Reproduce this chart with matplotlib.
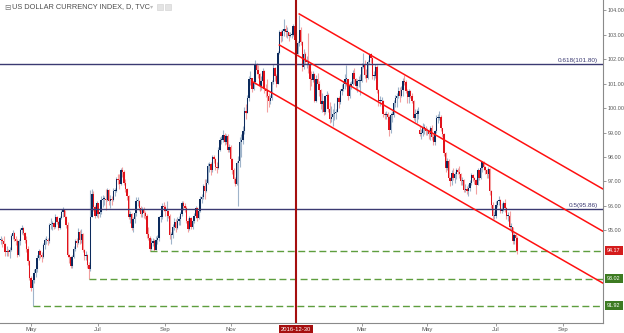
import numpy as np
import pandas as pd
import matplotlib
matplotlib.use("Agg")
import matplotlib.pyplot as plt
import matplotlib.transforms as mtransforms

plt.rcParams['font.family'] = ['Liberation Sans', 'DejaVu Sans']

# ---------------- data (daily OHLC, US Dollar Index, one line per week) ----------------
start_date = "2016-04-04"

opens = [
    94.59, 94.60, 94.55, 94.45, 94.10,
    94.15, 94.10, 94.20, 94.75, 94.90,
    94.65, 94.55, 94.00, 94.55, 95.00,
    95.10, 94.90, 94.60, 94.25, 93.75,
    93.05, 92.65, 92.95, 93.25, 93.40,
    93.85, 94.15, 94.00, 93.90, 94.40,
    94.60, 94.60, 94.55, 95.20, 95.25,
    95.30, 95.15, 95.55, 95.35, 95.10,
    95.50, 95.75, 95.85, 95.55, 95.20,
    94.00, 93.90, 93.55, 93.90, 94.25,
    94.55, 94.50, 94.95, 94.60, 94.85,
    94.20, 93.95, 94.00, 93.60, 93.40,
    95.55, 96.50, 95.95, 95.60, 96.10,
    95.65, 95.75, 96.25, 96.30, 96.30,
    96.25, 96.65, 96.20, 96.30, 96.25,
    96.60, 96.60, 97.10, 97.05, 96.90,
    97.45, 97.40, 96.95, 96.70, 96.40,
    95.55, 95.65, 95.10, 95.45, 95.70,
    96.20, 96.20, 95.90, 95.65, 95.85,
    95.70, 95.60, 94.85, 94.70, 94.25,
    94.50, 94.55, 94.20, 94.60, 94.70,
    95.55, 95.55, 96.00, 95.95, 95.80,
    95.80, 95.60, 94.80, 94.80, 95.15,
    95.35, 95.10, 95.40, 95.45, 95.65,
    96.10, 96.00, 95.90, 95.40, 95.05,
    95.50, 95.15, 95.40, 95.60, 95.90,
    95.50, 95.80, 96.30, 96.35, 96.80,
    96.60, 96.95, 97.65, 97.70, 97.45,
    98.00, 97.90, 97.60, 97.55, 98.30,
    98.70, 98.70, 98.90, 98.60, 98.85,
    98.30, 98.40, 97.90, 97.45, 97.10,
    96.90, 97.75, 97.85, 98.60, 98.70,
    99.05, 99.90, 99.80, 100.40, 101.20,
    101.25, 100.80, 101.05, 101.75, 101.55,
    101.40, 100.90, 101.10, 101.50, 100.80,
    100.70, 100.50, 100.30, 100.40, 101.05,
    101.65, 101.30, 101.00, 102.25, 103.10,
    102.95, 103.15, 103.25, 103.10, 103.10,
    102.95, 103.00, 103.00, 103.35, 102.80,
    102.20, 102.65, 103.20, 102.70, 101.70,
    102.20, 101.90, 101.90, 101.80, 101.20,
    101.15, 101.40, 100.30, 101.20, 101.00,
    100.75, 100.15, 100.30, 99.85, 100.50,
    100.55, 99.95, 99.55, 99.65, 99.75,
    99.80, 99.85, 100.40, 100.25, 100.70,
    100.80, 101.00, 101.20, 101.20, 100.50,
    100.90, 101.00, 101.45, 101.20, 100.90,
    101.10, 101.10, 101.10, 101.70, 101.80,
    101.35, 101.25, 101.90, 102.20, 102.05,
    101.30, 101.30, 101.70, 100.75, 100.30,
    100.30, 100.30, 99.75, 99.70, 99.75,
    99.65, 99.10, 99.70, 99.70, 100.20,
    100.40, 100.50, 100.70, 100.50, 100.75,
    101.10, 101.05, 100.70, 100.45, 100.70,
    100.50, 100.30, 99.60, 99.75, 99.75,
    99.10, 98.95, 99.00, 99.20, 99.20,
    99.05, 99.10, 98.95, 99.20, 98.80,
    98.60, 99.05, 99.60, 99.60, 99.65,
    99.20, 98.95, 98.15, 97.55, 97.85,
    97.15, 97.00, 97.35, 97.15, 97.30,
    97.45, 97.40, 97.30, 97.00, 97.05,
    96.65, 96.70, 96.60, 96.75, 96.95,
    97.25, 97.15, 97.05, 96.85, 97.45,
    97.15, 97.55, 97.80, 97.60, 97.45,
    97.30, 97.50, 96.60, 96.05, 95.60,
    95.60, 96.05, 96.20, 96.25, 95.80,
    95.85, 96.10, 95.90, 95.60, 95.60,
    95.15, 95.15, 94.55, 94.80, 94.70,
]

highs = [
    94.78, 94.70, 94.75, 94.50, 94.35,
    94.25, 94.30, 94.85, 95.00, 94.95,
    94.75, 94.65, 94.65, 95.10, 95.20,
    95.15, 94.95, 94.75, 94.35, 93.80,
    93.15, 93.05, 93.40, 93.60, 94.00,
    94.25, 94.20, 94.10, 94.50, 94.70,
    94.75, 94.70, 95.30, 95.50, 95.40,
    95.35, 95.65, 95.60, 95.40, 95.60,
    95.85, 95.95, 95.85, 95.60, 95.35,
    94.05, 93.95, 94.00, 94.35, 94.65,
    94.70, 95.10, 95.00, 95.05, 94.90,
    94.25, 94.15, 94.05, 93.70, 96.65,
    96.70, 96.60, 96.05, 96.20, 96.10,
    95.85, 96.40, 96.45, 96.40, 96.70,
    96.75, 96.70, 96.45, 96.40, 96.75,
    96.75, 97.20, 97.30, 97.30, 97.55,
    97.57, 97.45, 97.10, 96.75, 96.45,
    95.80, 95.70, 95.55, 95.80, 96.35,
    96.35, 96.25, 96.00, 95.95, 95.95,
    95.80, 95.65, 95.15, 94.75, 94.70,
    94.70, 94.65, 94.75, 94.80, 95.60,
    95.75, 96.10, 96.15, 96.05, 96.20,
    95.85, 95.65, 94.95, 95.25, 95.50,
    95.45, 95.55, 95.60, 95.75, 96.20,
    96.20, 96.10, 96.00, 95.50, 95.60,
    95.55, 95.50, 95.70, 96.00, 95.95,
    95.90, 96.40, 96.50, 96.90, 97.10,
    97.10, 97.75, 97.80, 97.80, 98.10,
    98.10, 97.95, 97.80, 98.40, 98.80,
    98.85, 99.10, 99.00, 98.95, 98.95,
    98.55, 98.50, 97.95, 97.55, 97.20,
    97.85, 98.05, 98.80, 98.95, 99.25,
    100.05, 100.15, 100.55, 101.30, 101.50,
    101.25, 101.15, 101.95, 101.85, 101.75,
    101.45, 101.30, 101.65, 101.55, 101.00,
    101.20, 100.60, 100.55, 101.15, 101.80,
    101.70, 101.40, 102.35, 103.20, 103.20,
    103.25, 103.65, 103.40, 103.30, 103.10,
    103.10, 103.20, 103.45, 103.35, 103.15,
    102.75, 103.82, 103.30, 102.75, 102.40,
    102.30, 102.15, 103.05, 101.85, 101.50,
    101.50, 101.45, 101.35, 101.45, 101.10,
    100.80, 100.60, 100.35, 100.55, 100.70,
    100.60, 100.25, 100.10, 99.95, 100.20,
    99.95, 100.45, 100.50, 100.80, 101.00,
    101.10, 101.40, 101.75, 101.20, 101.05,
    101.10, 101.55, 101.65, 101.25, 101.20,
    101.30, 101.40, 101.85, 102.26, 101.95,
    101.60, 101.95, 102.25, 102.25, 102.10,
    101.50, 101.80, 101.75, 100.80, 100.50,
    100.45, 100.35, 99.85, 99.90, 99.85,
    99.70, 99.80, 99.90, 100.35, 100.55,
    100.60, 100.85, 100.85, 100.90, 101.25,
    101.35, 101.15, 100.80, 100.80, 100.75,
    100.60, 100.35, 99.95, 99.95, 100.05,
    99.25, 99.15, 99.40, 99.35, 99.25,
    99.20, 99.15, 99.25, 99.30, 98.95,
    99.10, 99.70, 99.75, 99.90, 99.70,
    99.20, 99.00, 98.20, 97.95, 97.90,
    97.20, 97.45, 97.55, 97.40, 97.55,
    97.55, 97.65, 97.35, 97.20, 97.10,
    96.90, 96.80, 96.90, 97.05, 97.35,
    97.30, 97.20, 97.10, 97.55, 97.45,
    97.65, 97.85, 97.85, 97.65, 97.50,
    97.60, 97.55, 96.65, 96.15, 95.80,
    96.20, 96.25, 96.40, 96.30, 96.10,
    96.20, 96.30, 95.95, 95.75, 95.80,
    95.30, 95.15, 94.90, 94.90, 94.75,
]

lows = [
    94.45, 94.30, 94.30, 93.95, 93.95,
    93.95, 93.85, 94.15, 94.65, 94.55,
    94.40, 93.90, 93.95, 94.40, 94.85,
    94.80, 94.50, 94.10, 93.60, 92.95,
    92.50, 91.92, 92.85, 93.10, 93.30,
    93.80, 93.85, 93.70, 93.85, 94.25,
    94.45, 94.40, 94.50, 95.05, 95.00,
    95.05, 95.10, 95.25, 95.00, 95.05,
    95.45, 95.55, 95.40, 95.10, 93.90,
    93.65, 93.45, 93.45, 93.85, 94.15,
    94.30, 94.45, 94.45, 94.50, 94.10,
    93.80, 93.80, 93.45, 93.02, 93.35,
    95.55, 95.80, 95.50, 95.55, 95.50,
    95.55, 95.65, 95.95, 96.05, 95.85,
    96.20, 96.05, 95.90, 96.05, 96.20,
    96.40, 96.55, 96.90, 96.70, 96.85,
    97.20, 96.85, 96.55, 96.25, 95.45,
    95.30, 95.00, 94.95, 95.30, 95.60,
    96.00, 95.80, 95.55, 95.55, 95.50,
    95.45, 94.70, 94.60, 94.17, 94.20,
    94.35, 94.17, 94.20, 94.45, 94.55,
    95.35, 95.45, 95.80, 95.60, 95.40,
    95.50, 94.65, 94.45, 94.70, 95.00,
    94.95, 95.05, 95.20, 95.20, 95.60,
    95.85, 95.75, 95.30, 94.95, 95.00,
    95.05, 95.05, 95.30, 95.50, 95.40,
    95.45, 95.75, 96.10, 96.30, 96.30,
    96.55, 96.90, 97.40, 97.25, 97.40,
    97.75, 97.45, 97.35, 97.50, 98.25,
    98.55, 98.60, 98.50, 98.55, 98.20,
    98.20, 97.80, 97.30, 96.95, 96.80,
    96.85, 96.00, 97.60, 98.00, 98.55,
    98.95, 99.55, 99.80, 100.30, 100.95,
    100.65, 100.75, 101.00, 101.40, 101.25,
    100.70, 100.75, 100.95, 100.60, 100.45,
    99.85, 100.05, 100.15, 100.35, 101.00,
    101.10, 100.85, 101.00, 102.20, 102.70,
    102.75, 102.95, 102.90, 102.85, 102.75,
    102.90, 102.85, 102.95, 102.60, 101.90,
    102.20, 102.55, 102.60, 101.50, 101.60,
    101.80, 101.65, 101.45, 100.75, 100.90,
    101.05, 100.25, 100.25, 100.85, 100.50,
    99.95, 99.85, 99.70, 99.75, 100.25,
    99.85, 99.40, 99.45, 99.25, 99.50,
    99.55, 99.85, 100.00, 100.15, 100.55,
    100.70, 100.80, 100.90, 100.35, 100.40,
    100.80, 100.95, 101.00, 100.75, 100.65,
    100.85, 100.55, 101.05, 101.65, 101.25,
    101.05, 101.20, 101.80, 101.85, 101.20,
    101.15, 101.25, 100.60, 100.10, 100.10,
    100.05, 99.65, 99.55, 99.55, 99.45,
    98.85, 99.00, 99.45, 99.65, 100.05,
    100.05, 100.40, 100.25, 100.45, 100.50,
    100.95, 100.60, 100.20, 100.20, 100.40,
    100.20, 99.50, 99.45, 99.40, 99.55,
    98.85, 98.75, 98.85, 98.95, 98.90,
    98.90, 98.75, 98.70, 98.70, 98.50,
    98.50, 99.00, 99.40, 99.50, 99.05,
    98.80, 98.05, 97.40, 97.45, 97.05,
    96.80, 96.85, 97.05, 96.95, 97.10,
    97.30, 97.15, 96.85, 96.85, 96.55,
    96.55, 96.50, 96.40, 96.60, 96.85,
    97.00, 96.90, 96.50, 96.90, 97.05,
    97.10, 97.40, 97.45, 97.30, 97.15,
    97.15, 96.45, 95.90, 95.45, 95.45,
    95.50, 95.95, 96.05, 95.70, 95.70,
    95.80, 95.75, 95.45, 95.40, 95.00,
    94.95, 94.45, 94.45, 94.45, 94.05,
]

closes = [
    94.60, 94.55, 94.45, 94.10, 94.15,
    94.10, 94.20, 94.75, 94.90, 94.65,
    94.55, 94.00, 94.55, 95.00, 95.10,
    94.90, 94.60, 94.25, 93.75, 93.05,
    92.65, 92.95, 93.25, 93.40, 93.85,
    94.15, 94.00, 93.90, 94.40, 94.60,
    94.60, 94.55, 95.20, 95.25, 95.30,
    95.15, 95.55, 95.35, 95.10, 95.50,
    95.75, 95.85, 95.55, 95.20, 94.00,
    93.90, 93.55, 93.90, 94.25, 94.55,
    94.50, 94.95, 94.60, 94.85, 94.20,
    93.95, 94.00, 93.60, 93.40, 95.55,
    96.50, 95.95, 95.60, 96.10, 95.65,
    95.75, 96.25, 96.30, 96.30, 96.25,
    96.65, 96.20, 96.30, 96.25, 96.60,
    96.60, 97.10, 97.05, 96.90, 97.45,
    97.40, 96.95, 96.70, 96.40, 95.55,
    95.65, 95.10, 95.45, 95.70, 96.20,
    96.20, 95.90, 95.65, 95.85, 95.70,
    95.60, 94.85, 94.70, 94.25, 94.50,
    94.55, 94.20, 94.60, 94.70, 95.55,
    95.55, 96.00, 95.95, 95.80, 95.80,
    95.60, 94.80, 94.80, 95.15, 95.35,
    95.10, 95.40, 95.45, 95.65, 96.10,
    96.00, 95.90, 95.40, 95.05, 95.50,
    95.15, 95.40, 95.60, 95.90, 95.50,
    95.80, 96.30, 96.35, 96.80, 96.60,
    96.95, 97.65, 97.70, 97.45, 98.00,
    97.90, 97.60, 97.55, 98.30, 98.70,
    98.70, 98.90, 98.60, 98.85, 98.30,
    98.40, 97.90, 97.45, 97.10, 96.90,
    97.75, 97.85, 98.60, 98.70, 99.05,
    99.90, 99.80, 100.40, 101.20, 101.25,
    100.80, 101.05, 101.75, 101.55, 101.40,
    100.90, 101.10, 101.50, 100.80, 100.70,
    100.50, 100.30, 100.40, 101.05, 101.65,
    101.30, 101.00, 102.25, 103.10, 102.95,
    103.15, 103.25, 103.10, 103.10, 102.95,
    103.00, 103.00, 103.35, 102.80, 102.20,
    102.65, 103.20, 102.70, 101.70, 102.20,
    101.90, 101.90, 101.80, 101.20, 101.15,
    101.40, 100.30, 101.20, 101.00, 100.75,
    100.15, 100.30, 99.85, 100.50, 100.55,
    99.95, 99.55, 99.65, 99.75, 99.80,
    99.85, 100.40, 100.25, 100.70, 100.80,
    101.00, 101.20, 101.20, 100.50, 100.90,
    101.00, 101.45, 101.20, 100.90, 101.10,
    101.10, 101.10, 101.70, 101.80, 101.35,
    101.25, 101.90, 102.20, 102.05, 101.30,
    101.30, 101.70, 100.75, 100.30, 100.30,
    100.30, 99.75, 99.70, 99.75, 99.65,
    99.10, 99.70, 99.70, 100.20, 100.40,
    100.50, 100.70, 100.50, 100.75, 101.10,
    101.05, 100.70, 100.45, 100.70, 100.50,
    100.30, 99.60, 99.75, 99.75, 99.90,
    98.95, 99.00, 99.20, 99.20, 99.05,
    99.10, 98.95, 99.20, 98.80, 98.60,
    99.05, 99.60, 99.60, 99.65, 99.20,
    98.95, 98.15, 97.55, 97.85, 97.15,
    97.00, 97.35, 97.15, 97.30, 97.45,
    97.40, 97.30, 97.00, 97.05, 96.65,
    96.70, 96.60, 96.75, 96.95, 97.25,
    97.15, 97.05, 96.85, 97.45, 97.15,
    97.55, 97.80, 97.60, 97.45, 97.30,
    97.50, 96.60, 96.05, 95.60, 95.60,
    96.05, 96.20, 96.25, 95.80, 95.85,
    96.10, 95.90, 95.60, 95.60, 95.15,
    95.15, 94.55, 94.80, 94.70, 94.17,
]

# drawings
fib_levels = [101.80, 95.86]
fib_labels = ["0.618(101.80)", "0.5(95.86)"]
support_levels = [94.17, 93.02, 91.92]
support_starts = ["2016-08-18", "2016-06-23", "2016-05-03"]
support_label_colors = ["#d41c1c", "#3d7b22", "#3d7b22"]
channel_starts = ["2017-01-03", "2016-12-15", "2016-11-21"]
channel_start_prices = [103.85, 102.58, 101.09]
channel_end = "2017-10-09"
channel_end_prices = [96.70, 94.97, 92.85]
marker_date = "2016-12-30"
month_ticks = ["2016-05-02", "2016-07-01", "2016-09-01", "2016-11-01",
               "2017-03-01", "2017-05-01", "2017-07-03", "2017-09-01"]
month_labels = ["May", "Jul", "Sep", "Nov", "Mar", "May", "Jul", "Sep"]
price_ticks = [95, 96, 97, 98, 99, 100, 101, 102, 103, 104]

# ---------------- helpers ----------------
n = len(closes)
all_days = pd.bdate_range(start_date, "2017-12-29")
day_index = {d: i for i, d in enumerate(all_days)}


def idx(s):
    return day_index[pd.Timestamp(s)]


o = np.array(opens)
h = np.array(highs)
l = np.array(lows)
c = np.array(closes)
x = np.arange(n)

W, H = 624, 333
fig = plt.figure(figsize=(W / 100, H / 100), dpi=100)
ax = fig.add_axes([0, 10 / H, 603 / W, 323 / H])
ax.set_xlim(-0.34, 395.33)
ax.set_ylim(91.21, 104.42)

up = c >= o
body_up, wick_up = "#0c2a5c", "#9fb4ca"
body_dn, wick_dn = "#e0121b", "#f3a0a0"

hi = np.maximum(h, np.maximum(o, c))
lo = np.minimum(l, np.minimum(o, c))
ax.vlines(x, lo, hi, colors=np.where(up, wick_up, wick_dn), lw=0.8, zorder=2)
bottoms = np.minimum(o, c)
heights = np.maximum(np.abs(c - o), 0.04)
ax.bar(x, heights, bottom=bottoms, width=0.9,
       color=np.where(up, body_up, body_dn), linewidth=0, zorder=3)

# fib lines
trans_r = mtransforms.blended_transform_factory(ax.transAxes, ax.transData)
for lvl, lab in zip(fib_levels, fib_labels):
    ax.axhline(lvl, color="#3b3a72", lw=1.0, zorder=4)
    ax.text(0.992, lvl + 0.06, lab, transform=trans_r,
            ha="right", va="bottom", fontsize=4.6, color="#3b3a72", zorder=6)

# support dashed lines
for lvl, s in zip(support_levels, support_starts):
    ax.plot([idx(s), ax.get_xlim()[1]], [lvl, lvl], color="#5e9e3e", lw=1.0,
            dashes=(5, 2.6), zorder=4, solid_capstyle="butt")

# channel lines
for s, p0, p1 in zip(channel_starts, channel_start_prices, channel_end_prices):
    ax.plot([idx(s), idx(channel_end)], [p0, p1], color="#ff1010", lw=1.1, zorder=5)

# vertical marker
xm = idx(marker_date)
ax.axvline(xm, color="#a50f0f", lw=1.5, zorder=5)

# axes styling
for sp in ["top", "left"]:
    ax.spines[sp].set_visible(False)
for sp in ["right", "bottom"]:
    ax.spines[sp].set_color("#8a8a8a")
    ax.spines[sp].set_linewidth(0.8)
ax.yaxis.tick_right()
ax.set_yticks(price_ticks)
ax.set_yticklabels([f"{v:.2f}" for v in price_ticks])
ax.tick_params(axis="y", length=2, width=0.6, color="#8a8a8a", labelsize=3.9,
               labelcolor="#555555", pad=1.5)
ax.set_xticks([idx(d) for d in month_ticks])
ax.set_xticklabels(month_labels)
ax.tick_params(axis="x", length=2, width=0.6, color="#8a8a8a", labelsize=4.3,
               labelcolor="#555555", pad=0.8)

# right-side price labels
for lvl, col in zip(support_levels, support_label_colors):
    ax.text(1.007, lvl, f"{lvl:.2f}", transform=trans_r, ha="left", va="center",
            fontsize=3.9, color="white", clip_on=False, zorder=10,
            bbox=dict(boxstyle="square,pad=0.35", fc=col, ec="none"))

# date label at bottom
trans_b = mtransforms.blended_transform_factory(ax.transData, ax.transAxes)
ax.text(xm, -0.012, marker_date, transform=trans_b, ha="center", va="top",
        fontsize=4.2, color="white", clip_on=False, zorder=10,
        bbox=dict(boxstyle="square,pad=0.3", fc="#a50f0f", ec="none"))

# title
fig.text(4 / W, 1 - 7 / H, "⊟", fontsize=5.5, color="#777777", va="center", ha="left",
         family=["DejaVu Sans"])
fig.text(12 / W, 1 - 7 / H, "US DOLLAR CURRENCY INDEX, D, TVC", fontsize=5.3,
         color="#4d4d4d", va="center", ha="left")
fig.text(150 / W, 1 - 7 / H, "▾", fontsize=4.5, color="#bbbbbb", va="center", ha="left",
         family=["DejaVu Sans"])
for xx in (157, 165):
    fig.patches.append(plt.Rectangle((xx / W, 1 - 10 / H), 6 / W, 6 / H,
                                     transform=fig.transFigure, fc="#e4e4e4",
                                     ec="#cfcfcf", lw=0.4))

fig.savefig("out.png", dpi=100)
